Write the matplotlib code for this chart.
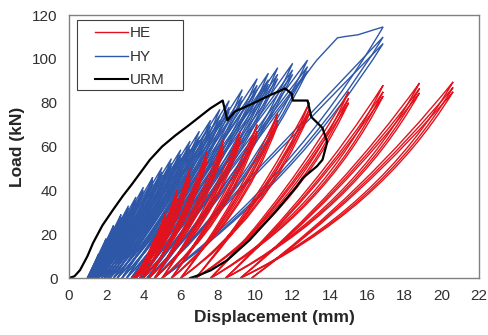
import matplotlib
matplotlib.use("Agg")
import matplotlib.pyplot as plt
from matplotlib.path import Path
from matplotlib.patches import PathPatch, Rectangle
from matplotlib.lines import Line2D

plt.rcParams['font.family'] = ['Liberation Sans', 'DejaVu Sans']

# HE specimen: peak displacement of each amplitude level, load of its 3 cycles,
# residual displacement before each level (last entry = residual after the test)
he_peak_x = [4.6, 5.2, 5.8, 6.5, 7.4, 8.3, 9.2, 10.1, 11.2, 12.9, 15.0, 16.85, 18.8, 20.6]
he_load_c1 = [18, 30, 40, 50, 57.5, 63, 67, 70, 75, 80, 85, 88, 89, 89.5]
he_load_c2 = [17, 28, 38, 47, 55, 60, 64, 67, 72, 77, 82, 85, 86.5, 87]
he_load_c3 = [16, 27, 36, 45, 53, 58, 62, 65, 70, 75, 80, 83, 84.5, 85]
he_res = [3.4, 3.5, 3.6, 3.8, 4.0, 4.3, 4.6, 5.0, 5.5, 6.0, 6.8, 7.6, 8.4, 9.2, 9.8]

# HY specimen
hy_peak_x = [1.6, 2.0, 2.4, 2.8, 3.2, 3.6, 4.0, 4.5, 5.0, 5.5, 6.0, 6.5, 7.0, 7.6, 8.1, 8.6,
             9.3, 10.1, 10.7, 11.2, 12.0, 12.8, 16.85]
hy_load_c1 = [11, 18, 24, 29, 33, 37, 41.5, 46, 50.5, 54.5, 58.5, 62.5, 67, 72, 77, 81,
              86, 91, 93.5, 96, 98, 99.5, 114.6]
hy_load_c2 = [10.5, 17, 23, 28, 32, 35.5, 40, 44.5, 48.5, 52.5, 56.5, 60.5, 64.5, 69.5, 74, 78,
              83, 88, 90.5, 93, 95, 96.5, 110]
hy_load_c3 = [10, 16.5, 22, 27, 31, 34.5, 39, 43, 47, 51, 55, 59, 63, 67.5, 72, 76,
              81, 86, 88.5, 91, 93, 94.5, 107]
hy_res = [1.0, 1.0, 1.05, 1.1, 1.15, 1.2, 1.3, 1.4, 1.5, 1.6, 1.75, 1.9, 2.05, 2.2, 2.4, 2.6,
          2.85, 3.1, 3.35, 3.6, 3.9, 4.2, 4.6, 5.0]
# jagged envelope of the last HY loading
hy_env_x = [13.1, 13.3, 14.4, 14.8, 15.5, 16.85]
hy_env_y = [97.3, 99.5, 109.6, 110.2, 111, 114.6]

# URM specimen (monotonic)
urm_x = [0.0, 0.3, 0.6, 1.0, 1.3, 1.8, 2.36, 2.9, 3.4, 4.35, 5.0, 5.7, 6.4, 7.0, 7.6, 8.25,
         8.5, 8.9, 9.7, 10.8, 11.6, 11.96, 12.0, 12.8, 13.0, 13.6, 13.85, 13.6, 13.3, 12.55,
         12.2, 11.0, 9.7, 8.5, 7.6, 7.0, 6.5]
urm_y = [0.0, 0.8, 3.6, 10.0, 16.0, 24.0, 31.0, 37.5, 43.0, 54.0, 60.0, 65.0, 69.5, 73.5, 77.5, 81.0,
         72.0, 76.0, 79.0, 83.5, 86.5, 84.0, 81.0, 81.0, 73.5, 68.5, 62.0, 54.0, 51.0, 45.7,
         41.6, 29.5, 17.4, 8.2, 3.5, 1.4, 0.0]

red = '#E3121C'
blue = '#2E57A8'


def bend(p0, p1, sag):
    # control point pulled towards the lower right corner -> concave up branch
    mx, my = (p0[0] + p1[0]) / 2, (p0[1] + p1[1]) / 2
    cx, cy = max(p0[0], p1[0]), min(p0[1], p1[1])
    return (mx + sag * (cx - mx), my + sag * (cy - my))


def add_loop(ax, r0, r1, px, py, color, sag_up, sag_down, env=None):
    start = (r0, 0)
    end = (r1, 0)
    verts = [start]
    codes = [Path.MOVETO]
    if env is None:
        top = (px, py)
        verts += [bend(start, top, sag_up), top]
        codes += [Path.CURVE3, Path.CURVE3]
    else:
        first = (env[0][0], env[1][0])
        verts += [bend(start, first, sag_up), first]
        codes += [Path.CURVE3, Path.CURVE3]
        for x, y in zip(env[0][1:], env[1][1:]):
            verts.append((x, y))
            codes.append(Path.LINETO)
        top = verts[-1]
    verts += [bend(end, top, sag_down), end]
    codes += [Path.CURVE3, Path.CURVE3]
    ax.add_patch(PathPatch(Path(verts, codes), fill=False, edgecolor=color, lw=1.0))


fig = plt.figure(figsize=(4.88, 3.35), dpi=100)
ax = fig.add_axes([0.141, 0.170, 0.841, 0.785])

n_hy = len(hy_peak_x)
for i in range(n_hy):
    for k, loads in enumerate([hy_load_c1, hy_load_c2, hy_load_c3]):
        env = None
        if i == n_hy - 1 and k == 0:
            env = (hy_env_x, hy_env_y)
        add_loop(ax, hy_res[i], hy_res[i + 1], hy_peak_x[i], loads[i], blue, 0.0, 0.2, env)

for i in range(len(he_peak_x)):
    for loads in [he_load_c1, he_load_c2, he_load_c3]:
        add_loop(ax, he_res[i], he_res[i + 1], he_peak_x[i], loads[i], red, 0.3, 0.12)

ax.plot(urm_x, urm_y, color='black', lw=1.6)

ax.set_xlim(0, 22)
ax.set_ylim(0, 120)
ax.set_xticks(range(0, 23, 2))
ax.set_yticks(range(0, 121, 20))
ax.tick_params(length=0, labelsize=11, labelcolor='#303030', pad=8)
for s in ax.spines.values():
    s.set_color('#808080')
    s.set_linewidth(1.0)

ax.set_xlabel('Displacement (mm)', fontsize=12.5, fontweight='bold', color='#262626', labelpad=5)
ax.set_ylabel('Load (kN)', fontsize=12.5, fontweight='bold', color='#262626', labelpad=5)

# legend: entries without frame, frame drawn as a separate box
handles = [Line2D([], [], color=red, lw=1.0),
           Line2D([], [], color=blue, lw=1.0),
           Line2D([], [], color='black', lw=1.5)]
leg = ax.legend(handles, ['HE', 'HY', 'URM'], loc='upper left', bbox_to_anchor=(0.063, 0.957),
                fontsize=11, frameon=False, handlelength=2.15, handletextpad=0.15,
                labelspacing=0.62, borderpad=0, borderaxespad=0)
for t in leg.get_texts():
    t.set_color('#303030')
ax.add_patch(Rectangle((0.0195, 0.715), 0.2585, 0.266, transform=ax.transAxes,
                       fill=False, edgecolor='#404040', lw=0.8, zorder=5))

fig.savefig('out.png', dpi=100)
